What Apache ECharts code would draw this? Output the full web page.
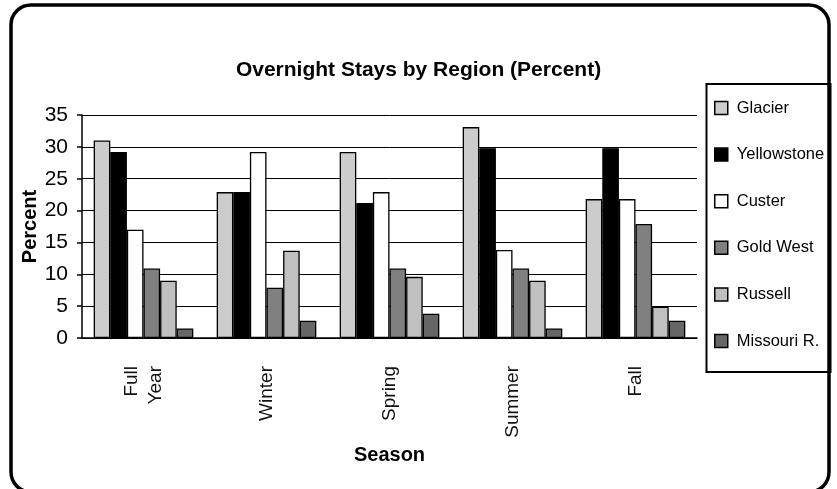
<!DOCTYPE html>
<html>
<head>
<meta charset="utf-8">
<script src="https://cdn.jsdelivr.net/npm/echarts@6/dist/echarts.min.js"></script>
<style>
  html, body { margin: 0; padding: 0; background: #fff; }
  #chart1 { width: 837px; height: 489px; }
</style>
</head>
<body>
<div id="chart1"></div>
<script>
// data (percent)
var seasons = ['Full\nYear', 'Winter', 'Spring', 'Summer', 'Fall'];
var regionNames = ['Glacier', 'Yellowstone', 'Custer', 'Gold West', 'Russell', 'Missouri R.'];
var glacier = [31, 22.9, 29.2, 33.1, 21.8];
var yellowstone = [29.2, 22.9, 21.2, 29.8, 29.8];
var custer = [17, 29.2, 22.9, 13.8, 21.8];
var goldWest = [10.9, 7.9, 10.9, 10.9, 17.9];
var russell = [9, 13.7, 9.6, 9, 4.9];
var missouri = [1.5, 2.7, 3.8, 1.5, 2.7];
var yTicks = [0, 5, 10, 15, 20, 25, 30, 35];

var regionValues = [glacier, yellowstone, custer, goldWest, russell, missouri];
var regionColors = ['#cccccc', '#000000', '#ffffff', '#808080', '#c0c0c0', '#666666'];

var font = "'Liberation Sans', Arial, sans-serif";

var myChart1 = echarts.init(document.getElementById('chart1'), null, { renderer: 'canvas' });

var seriesList = regionNames.map(function (name, i) {
    return {
        name: name,
        type: 'bar',
        barGap: 0,
        barCategoryGap: '19%',
        itemStyle: {
            color: regionColors[i],
            borderColor: '#000',
            borderWidth: 1.3
        },
        data: regionValues[i]
    };
});

var option1 = {
    backgroundColor: '#fff',
    animation: false,
    title: {
        text: 'Overnight Stays by Region (Percent)',
        left: 'center',
        top: 55,
        textStyle: { fontFamily: font, fontWeight: 'bold', fontSize: 21, color: '#000' }
    },
    legend: {
        orient: 'vertical',
        left: 714,
        top: 98,
        padding: 0,
        itemWidth: 13,
        itemHeight: 13,
        itemGap: 26.6,
        icon: 'rect',
        itemStyle: { borderColor: '#000', borderWidth: 1.5 },
        textStyle: { fontFamily: font, fontSize: 16.5, lineHeight: 20, color: '#000', padding: [0, 0, 0, 4] },
        data: regionNames
    },
    grid: {
        left: 82,
        right: 140,
        top: 115,
        bottom: 151
    },
    xAxis: {
        type: 'category',
        data: seasons,
        name: 'Season',
        nameLocation: 'middle',
        nameGap: 107,
        nameMoveOverlap: false,
        nameTextStyle: { fontFamily: font, fontWeight: 'bold', fontSize: 20, color: '#000' },
        axisLine: { lineStyle: { color: '#000', width: 1.5 } },
        axisTick: { length: 10, lineStyle: { color: '#000', width: 1.5 } },
        axisLabel: {
            rotate: 90,
            margin: 28,
            fontFamily: font,
            fontSize: 19,
            lineHeight: 24,
            color: '#111'
        }
    },
    yAxis: {
        type: 'value',
        min: yTicks[0],
        max: yTicks[yTicks.length - 1],
        interval: 5,
        name: 'Percent',
        nameLocation: 'middle',
        nameGap: 42,
        nameMoveOverlap: false,
        nameTextStyle: { fontFamily: font, fontWeight: 'bold', fontSize: 20, color: '#000' },
        axisLine: { show: true, lineStyle: { color: '#000', width: 1.5 } },
        axisTick: { show: true, length: 5, lineStyle: { color: '#000', width: 1.5 } },
        axisLabel: { fontFamily: font, fontSize: 21, color: '#000', margin: 14 },
        splitLine: { lineStyle: { color: '#000', width: 1 } }
    },
    graphic: [
        {
            type: 'rect',
            shape: { x: 11, y: 5, width: 818, height: 487, r: 20 },
            style: { fill: 'none', stroke: '#000', lineWidth: 3.5 },
            silent: true
        },
        {
            type: 'rect',
            shape: { x: 706.5, y: 84, width: 124, height: 288 },
            style: { fill: 'none', stroke: '#000', lineWidth: 2 },
            silent: true
        }
    ],
    series: seriesList
};

myChart1.setOption(option1);
</script>
</body>
</html>
